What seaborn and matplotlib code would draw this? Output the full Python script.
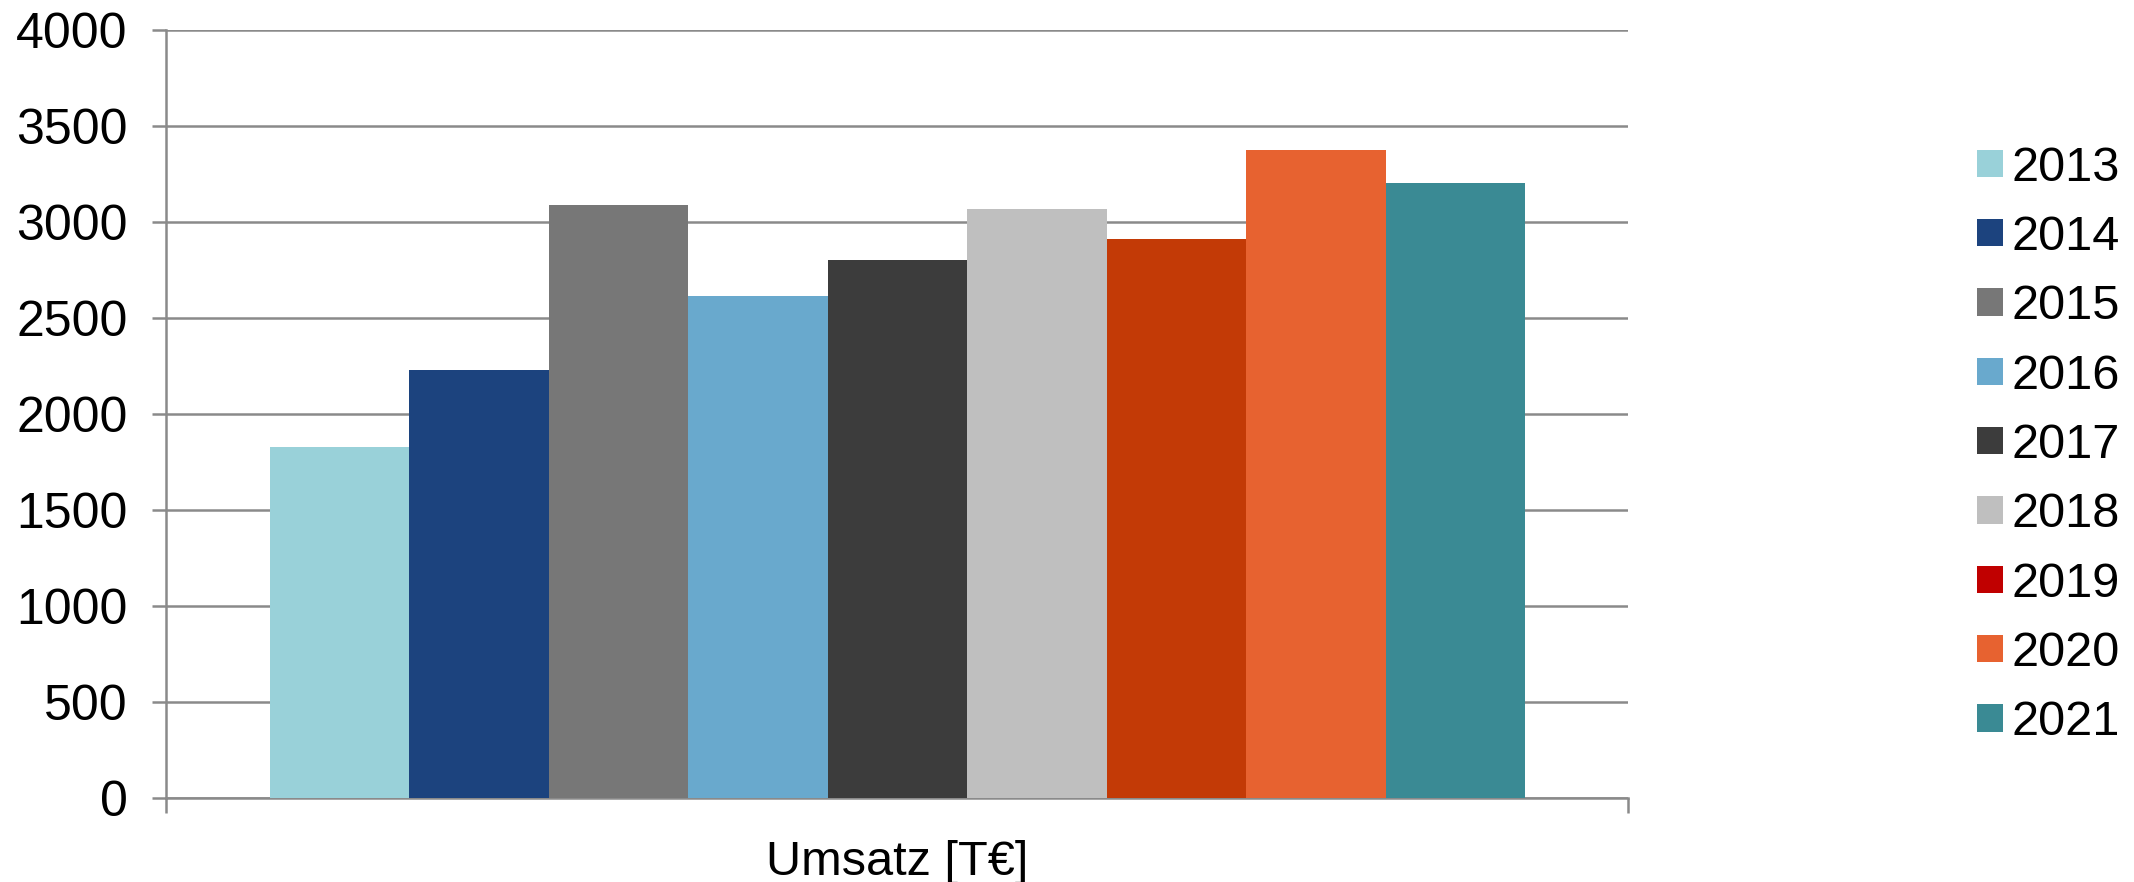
import pandas as pd
import seaborn as sns
from matplotlib import pyplot as plt
from matplotlib.patches import Patch

years = ["2013", "2014", "2015", "2016", "2017", "2018", "2019", "2020", "2021"]
umsatz = [1830, 2232, 3090, 2615, 2800, 3070, 2912, 3374, 3204]
category = "Umsatz [T€]"

bar_colors = ["#99D1D9", "#1C437E", "#777777", "#69A9CD", "#3C3C3C",
              "#BFBFBF", "#C33A06", "#E76230", "#3A8A94"]
legend_colors = bar_colors[:6] + ["#C00000"] + bar_colors[7:]

df = pd.DataFrame({"kat": [category] * len(years), "jahr": years, "wert": umsatz})

sns.set_theme(style="white")
plt.rcParams["font.family"] = ["Liberation Sans", "DejaVu Sans"]
plt.rcParams["text.color"] = "black"
plt.rcParams["xtick.labelcolor"] = "black"
plt.rcParams["ytick.labelcolor"] = "black"

grid_col = "#8A8A8A"
fig = plt.figure(figsize=(21.34, 8.82), dpi=100)
ax = fig.add_axes([0.078, 0.095, 0.685, 0.871])

sns.barplot(data=df, x="kat", y="wert", hue="jahr", palette=bar_colors,
            width=0.859, gap=0, saturation=1, legend=False, ax=ax,
            linewidth=0, zorder=3)

ax.set_xlim(-0.5, 0.5)
ax.set_ylim(0, 4000)
ax.set_yticks(range(0, 4001, 500))
ax.yaxis.grid(True, color=grid_col, linewidth=1.8, zorder=0)
ax.set_axisbelow(True)

ax.set_xticks([0], [category])
ax.set_xticks([-0.5, 0.5], minor=True)
ax.tick_params(axis="x", which="major", length=0, pad=30, labelsize=35)
ax.tick_params(axis="x", which="minor", length=11, width=1.8, color=grid_col,
               direction="out", bottom=True)
ax.tick_params(axis="y", length=10, width=1.8, color=grid_col, direction="out",
               left=True, labelsize=36, pad=18)
ax.set_xlabel("")
ax.set_ylabel("")

for side in ["top", "right"]:
    ax.spines[side].set_visible(False)
for side in ["left", "bottom"]:
    ax.spines[side].set_color(grid_col)
    ax.spines[side].set_linewidth(1.8)

handles = [Patch(facecolor=c, edgecolor="none") for c in legend_colors]
fig.legend(handles, years, loc="center left", bbox_to_anchor=(0.9175, 0.495),
           frameon=False, fontsize=35, handlelength=0.53, handleheight=0.49,
           handletextpad=0.18, labelspacing=0.5, borderaxespad=0)

fig.savefig("out.png", dpi=100, facecolor="white")
